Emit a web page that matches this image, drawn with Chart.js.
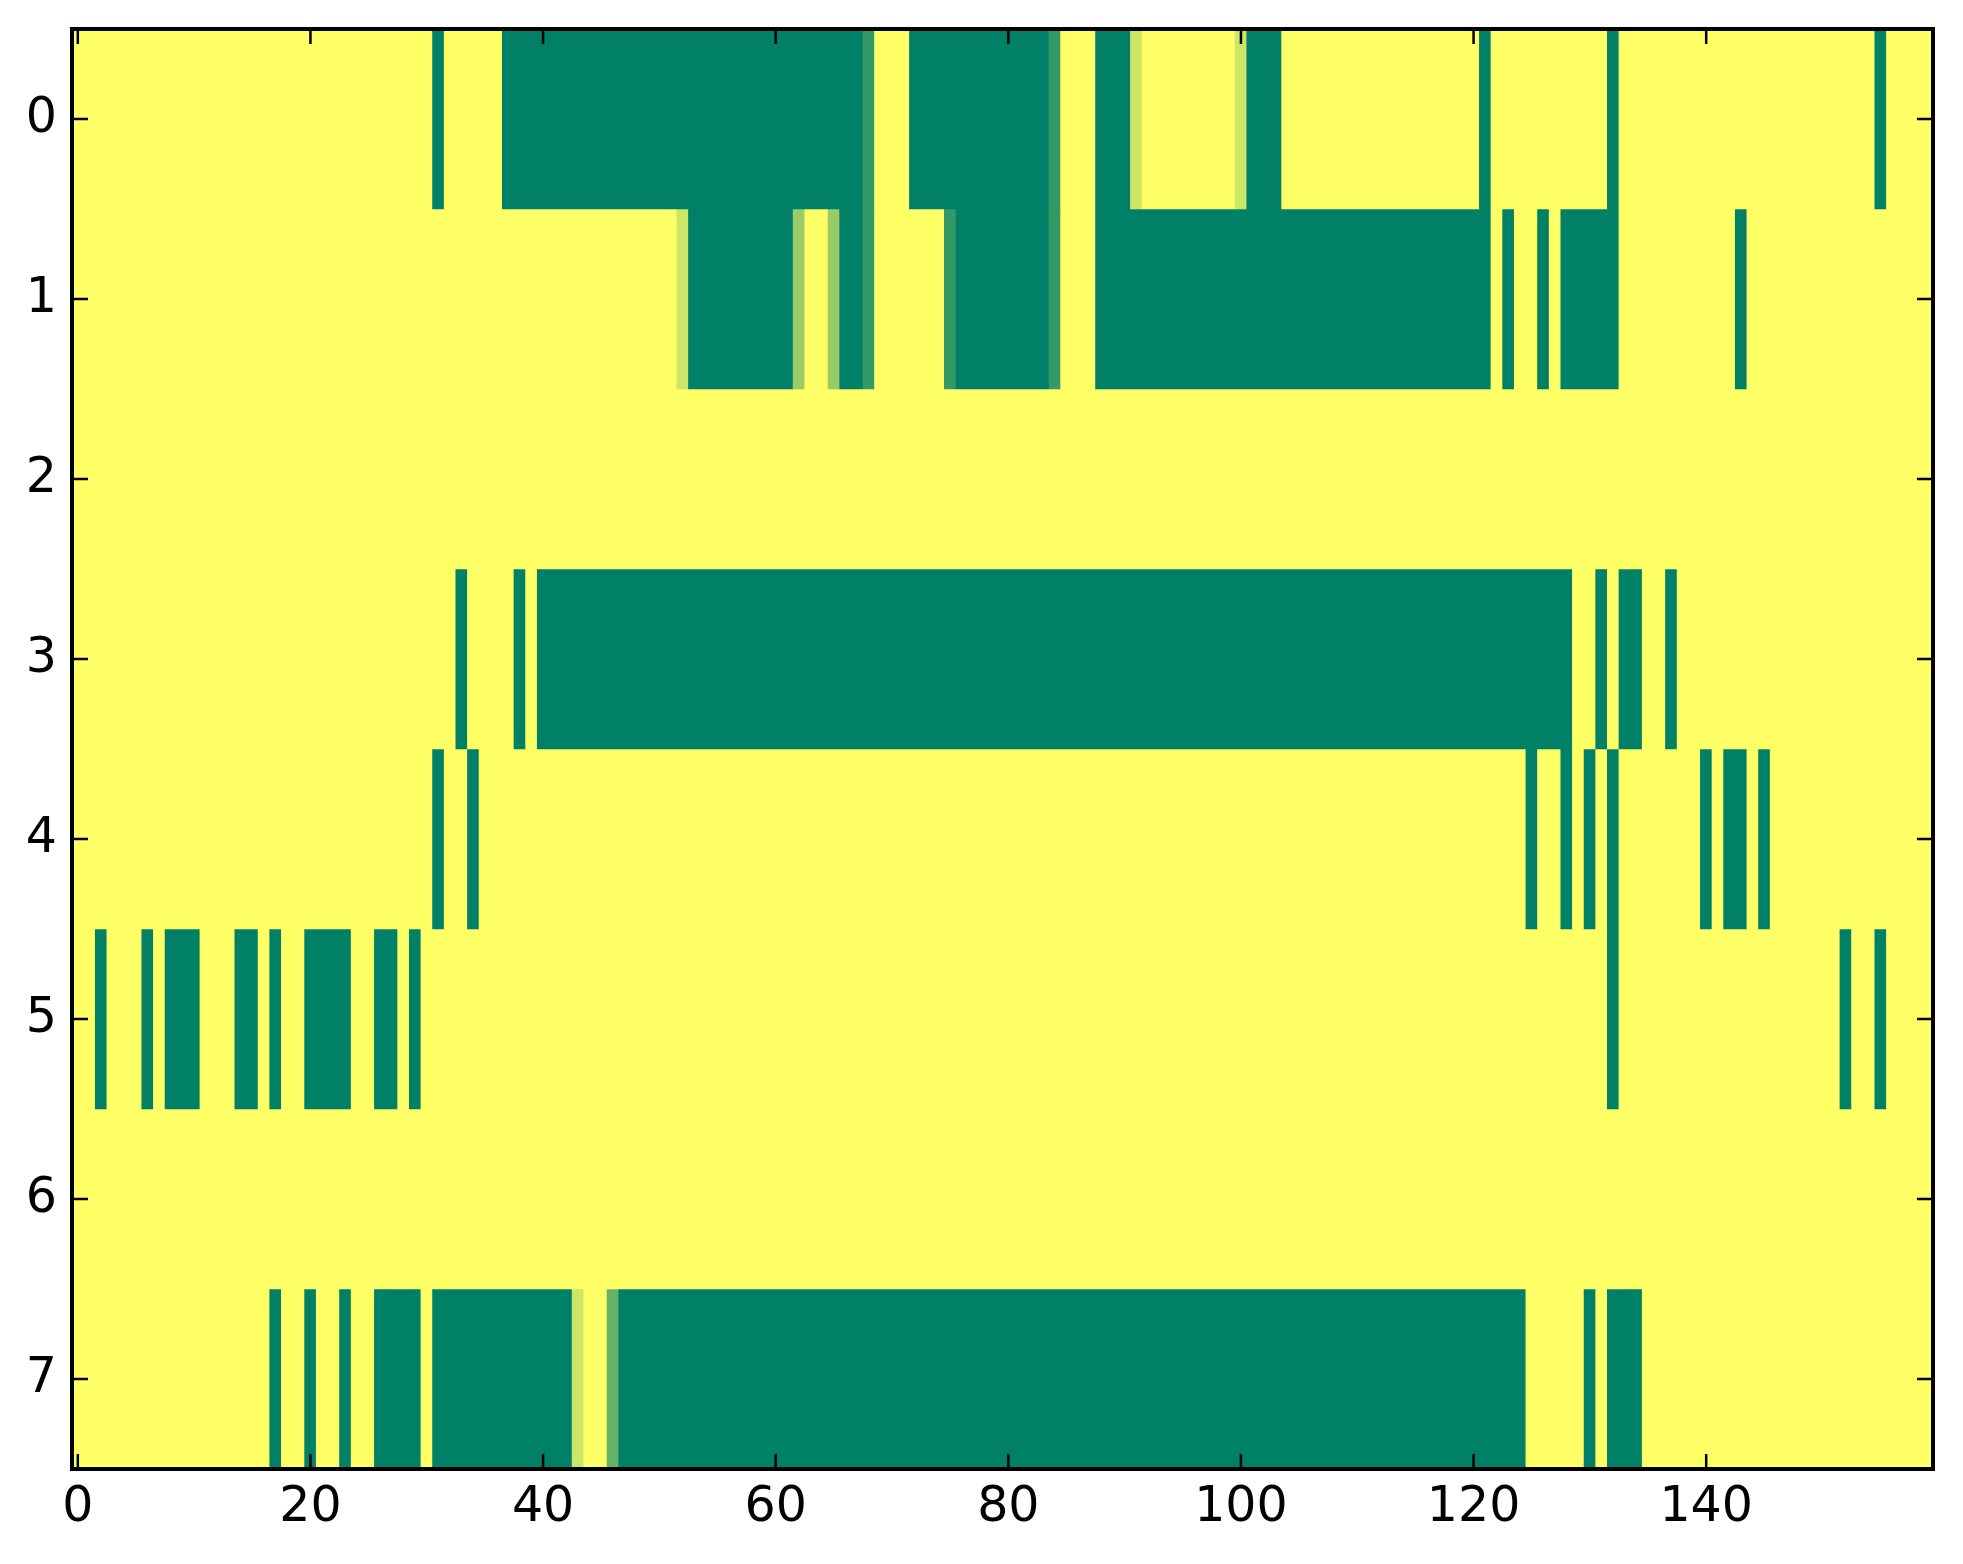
<!DOCTYPE html>
<html>
<head>
<meta charset="utf-8">
<script src="https://cdn.jsdelivr.net/npm/chart.js@4"></script>
<style>
  html, body { margin: 0; padding: 0; background: #fff; }
</style>
</head>
<body>
<canvas id="heatmap" width="1963" height="1564"></canvas>
<script>
// Row labels and x ticks
const rowLabels = ['0', '1', '2', '3', '4', '5', '6', '7'];
const xTicks = [0, 20, 40, 60, 80, 100, 120, 140];
const nCols = 160;

// Each row as runs: [firstCol, lastCol, value]  (0 = green, 1 = yellow)
const row0 = [[0, 30, 1], [31, 31, 0], [32, 36, 1], [37, 67, 0], [68, 68, 0.2], [69, 71, 1], [72, 83, 0], [84, 84, 0.2],
  [85, 87, 1], [88, 90, 0], [91, 91, 0.8], [92, 99, 1], [100, 100, 0.8], [101, 103, 0], [104, 120, 1], [121, 121, 0],
  [122, 131, 1], [132, 132, 0], [133, 154, 1], [155, 155, 0], [156, 159, 1]];
const row1 = [[0, 51, 1], [52, 52, 0.8], [53, 61, 0], [62, 62, 0.6], [63, 64, 1], [65, 65, 0.6], [66, 67, 0], [68, 68, 0.2],
  [69, 74, 1], [75, 75, 0.2], [76, 83, 0], [84, 84, 0.2], [85, 87, 1], [88, 121, 0], [122, 122, 1], [123, 123, 0],
  [124, 125, 1], [126, 126, 0], [127, 127, 1], [128, 132, 0], [133, 142, 1], [143, 143, 0], [144, 159, 1]];
const row2 = [[0, 159, 1]];
const row3 = [[0, 32, 1], [33, 33, 0], [34, 37, 1], [38, 38, 0], [39, 39, 1], [40, 128, 0], [129, 130, 1], [131, 131, 0],
  [132, 132, 1], [133, 134, 0], [135, 136, 1], [137, 137, 0], [138, 159, 1]];
const row4 = [[0, 30, 1], [31, 31, 0], [32, 33, 1], [34, 34, 0], [35, 124, 1], [125, 125, 0], [126, 127, 1], [128, 128, 0],
  [129, 129, 1], [130, 130, 0], [131, 131, 1], [132, 132, 0], [133, 139, 1], [140, 140, 0], [141, 141, 1], [142, 143, 0],
  [144, 144, 1], [145, 145, 0], [146, 159, 1]];
const row5 = [[0, 1, 1], [2, 2, 0], [3, 5, 1], [6, 6, 0], [7, 7, 1], [8, 10, 0], [11, 13, 1], [14, 15, 0], [16, 16, 1],
  [17, 17, 0], [18, 19, 1], [20, 23, 0], [24, 25, 1], [26, 27, 0], [28, 28, 1], [29, 29, 0], [30, 131, 1], [132, 132, 0],
  [133, 151, 1], [152, 152, 0], [153, 154, 1], [155, 155, 0], [156, 159, 1]];
const row6 = [[0, 159, 1]];
const row7 = [[0, 16, 1], [17, 17, 0], [18, 19, 1], [20, 20, 0], [21, 22, 1], [23, 23, 0], [24, 25, 1], [26, 29, 0],
  [30, 30, 1], [31, 42, 0], [43, 43, 0.8], [44, 45, 1], [46, 46, 0.4], [47, 124, 0], [125, 129, 1], [130, 130, 0],
  [131, 131, 1], [132, 134, 0], [135, 159, 1]];

const rows = [row0, row1, row2, row3, row4, row5, row6, row7];

// matplotlib "summer" colormap
function summer(v) {
  const r = Math.round(255 * v);
  const g = Math.round(255 * (0.5 + 0.5 * v));
  return 'rgb(' + r + ',' + g + ',102)';
}

const datasets = rows.map(function (runs, i) {
  return {
    label: 'row ' + rowLabels[i],
    data: runs.map(function (r) { return { y: rowLabels[i], x: [r[0] - 0.5, r[1] + 0.5] }; }),
    backgroundColor: runs.map(function (r) { return summer(r[2]); }),
    borderWidth: 0,
    grouped: false,
    barPercentage: 1,
    categoryPercentage: 1
  };
});

// inward ticks on all four sides plus the black frame
const frame = {
  id: 'frame',
  afterDatasetsDraw(chart) {
    const ctx = chart.ctx;
    const a = chart.chartArea;
    const xs = chart.scales.x;
    const ys = chart.scales.y;
    ctx.save();
    ctx.strokeStyle = '#000';
    ctx.lineWidth = 2.5;
    ctx.beginPath();
    xTicks.forEach(function (t) {
      const px = xs.getPixelForValue(t);
      ctx.moveTo(px, a.bottom); ctx.lineTo(px, a.bottom - 15);
      ctx.moveTo(px, a.top); ctx.lineTo(px, a.top + 15);
    });
    rowLabels.forEach(function (lab, i) {
      const py = ys.getPixelForValue(i);
      ctx.moveTo(a.left, py); ctx.lineTo(a.left + 16, py);
      ctx.moveTo(a.right, py); ctx.lineTo(a.right - 16, py);
    });
    ctx.stroke();
    ctx.lineWidth = 4;
    ctx.strokeRect(a.left, a.top, a.right - a.left, a.bottom - a.top);
    ctx.restore();
  }
};

const tickFont = { family: 'DejaVu Sans', size: 49 };

new Chart(document.getElementById('heatmap').getContext('2d'), {
  type: 'bar',
  data: { labels: rowLabels, datasets: datasets },
  plugins: [frame],
  options: {
    responsive: false,
    animation: false,
    indexAxis: 'y',
    layout: { padding: { top: 29, right: 30, left: 0, bottom: 0 } },
    plugins: { legend: { display: false }, tooltip: { enabled: false } },
    scales: {
      x: {
        type: 'linear',
        position: 'bottom',
        min: -0.5,
        max: nCols - 0.5,
        grid: { display: false, drawTicks: false },
        border: { display: false },
        ticks: { color: '#000', font: tickFont, padding: 10, maxRotation: 0 },
        afterBuildTicks: function (s) { s.ticks = xTicks.map(function (v) { return { value: v }; }); },
        afterFit: function (s) { s.height = 95; s.paddingLeft = 0; s.paddingRight = 0; }
      },
      y: {
        type: 'category',
        offset: true,
        grid: { display: false, drawTicks: false },
        border: { display: false },
        ticks: { color: '#000', font: tickFont, padding: 15 },
        afterFit: function (s) { s.width = 72; s.paddingTop = 0; s.paddingBottom = 0; }
      }
    }
  }
});
</script>
</body>
</html>
